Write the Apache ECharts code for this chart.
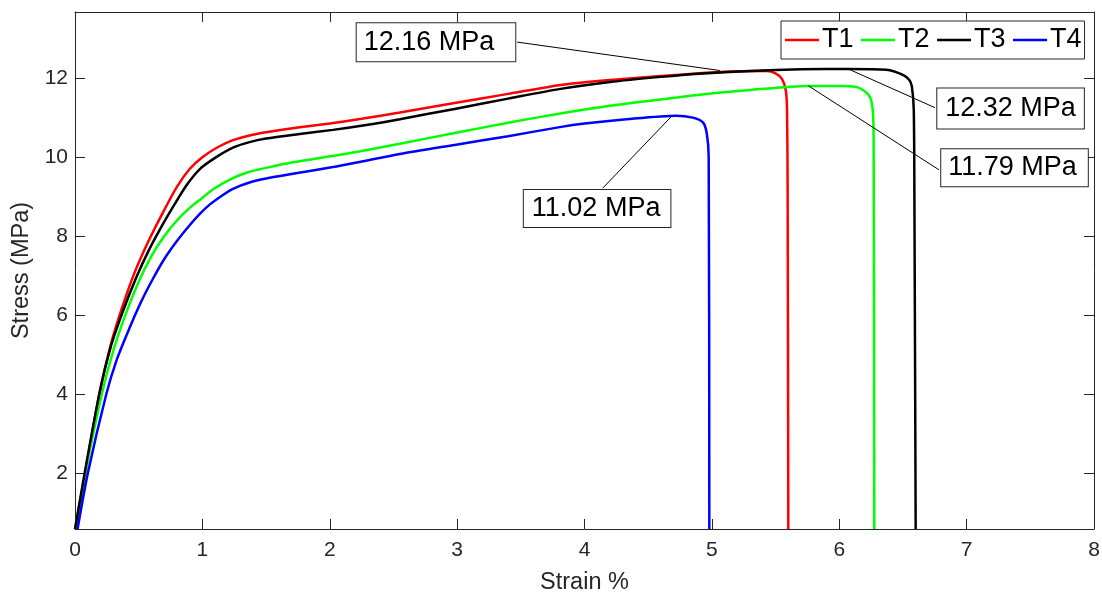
<!DOCTYPE html>
<html>
<head>
<meta charset="utf-8">
<script src="https://cdn.jsdelivr.net/npm/echarts@6/dist/echarts.min.js"></script>
<style>
  html, body { margin: 0; padding: 0; background: #fff; }
  #chart { width: 1102px; height: 594px; }
</style>
</head>
<body>
<div id="chart"></div>
<script>
// strain %, stress MPa pairs
const t1 = [[0.01,0.6],[0.08,2.0],[0.19,4.0],[0.28,5.25],[0.37,6.2],[0.47,7.1],[0.58,7.9],[0.69,8.6],[0.8,9.25],[0.9,9.7],[1.0,10.0],[1.12,10.25],[1.24,10.43],[1.37,10.55],[1.5,10.63],[1.75,10.75],[2.0,10.85],[2.25,10.97],[2.55,11.13],[2.98,11.37],[3.4,11.6],[3.8,11.82],[4.2,11.95],[4.6,12.05],[4.9,12.12],[5.2,12.17],[5.43,12.18],[5.5,12.12],[5.55,11.98],[5.58,11.7],[5.59,11.2],[5.595,9.0],[5.6,0.6]];
const t2 = [[0.0,0.6],[0.08,2.0],[0.21,4.0],[0.3,5.1],[0.4,6.05],[0.5,6.85],[0.6,7.5],[0.7,8.0],[0.8,8.4],[0.9,8.72],[0.978,8.92],[1.1,9.22],[1.24,9.47],[1.37,9.63],[1.5,9.73],[1.71,9.87],[2.02,10.03],[2.24,10.15],[2.55,10.34],[2.98,10.61],[3.4,10.87],[3.8,11.1],[4.2,11.3],[4.6,11.46],[4.906,11.58],[5.3,11.7],[5.757,11.8],[6.0,11.8],[6.14,11.77],[6.23,11.58],[6.26,11.28],[6.27,10.5],[6.275,0.6]];
const t3 = [[0.0,0.6],[0.075,2.0],[0.19,4.0],[0.28,5.2],[0.376,6.1],[0.48,6.95],[0.58,7.65],[0.68,8.25],[0.78,8.8],[0.873,9.28],[0.98,9.7],[1.109,10.0],[1.24,10.24],[1.37,10.38],[1.5,10.47],[1.75,10.58],[2.025,10.69],[2.3,10.82],[2.55,10.96],[2.98,11.22],[3.4,11.48],[3.8,11.72],[4.2,11.9],[4.6,12.03],[4.9,12.11],[5.3,12.18],[5.7,12.22],[6.07,12.23],[6.37,12.21],[6.5,12.08],[6.55,11.95],[6.57,11.79],[6.585,11.2],[6.59,9.0],[6.6,0.6]];
const t4 = [[0.02,0.6],[0.1,2.0],[0.245,4.0],[0.33,4.9],[0.428,5.68],[0.52,6.35],[0.611,6.92],[0.7,7.42],[0.8,7.88],[0.9,8.28],[0.978,8.56],[1.057,8.8],[1.15,9.02],[1.24,9.2],[1.37,9.36],[1.5,9.46],[1.71,9.58],[2.025,9.75],[2.235,9.88],[2.55,10.08],[2.98,10.31],[3.4,10.53],[3.806,10.76],[4.0,10.85],[4.33,10.96],[4.72,11.05],[4.85,11.0],[4.93,10.88],[4.96,10.6],[4.975,10.0],[4.98,0.6]];

const seriesNames = ['T1', 'T2', 'T3', 'T4'];
const seriesColors = ['#ff0000', '#00ff00', '#000000', '#0000ff'];
const xTicks = [0, 1, 2, 3, 4, 5, 6, 7, 8];
const yTicks = [2, 4, 6, 8, 10, 12];

// peak callouts: text, label box centre, arrow tail, arrow tip (data units)
const peakLabels = ['12.16 MPa', '12.32 MPa', '11.79 MPa', '11.02 MPa'];
const labelCentres = [[2.834, 12.905], [7.345, 11.232], [7.376, 9.733], [4.099, 8.705]];
const arrowTails = [[3.471, 12.91], [6.752, 11.25], [6.783, 9.68], [4.144, 9.22]];
const arrowTips = [[5.063, 12.19], [6.071, 12.23], [5.757, 11.805], [4.683, 11.03]];
const boxPads = [[5.5, 21, 5.5, 7], [6.5, 8, 6.5, 8], [5, 11, 5, 7], [5, 10, 5, 8]];

const FONT = '"Liberation Sans", Arial, sans-serif';
const AX = '#262626';

const chart = echarts.init(document.getElementById('chart'), null, { renderer: 'canvas' });

const lineSeries = [t1, t2, t3, t4].map((d, i) => ({
  name: seriesNames[i],
  type: 'line',
  data: d,
  showSymbol: false,
  smooth: 0.25,
  color: seriesColors[i],
  lineStyle: { color: seriesColors[i], width: 2.5 },
  clip: true,
  z: 2 + i,
}));

const calloutSeries = {
  name: 'callouts',
  type: 'line',
  data: [],
  z: 10,
  markLine: {
    silent: true,
    animation: false,
    symbol: ['none', 'arrow'],
    symbolSize: [0, 11],
    lineStyle: { color: '#000', width: 1, type: 'solid' },
    label: { show: false },
    data: arrowTails.map((t, i) => [{ coord: t }, { coord: arrowTips[i] }]),
  },
  markPoint: {
    silent: true,
    animation: false,
    symbol: 'circle',
    symbolSize: 0,
    data: labelCentres.map((c, i) => ({
      coord: c,
      label: {
        show: true,
        position: 'inside',
        formatter: peakLabels[i],
        color: '#000',
        fontFamily: FONT,
        fontSize: 27,
        lineHeight: 27,
        backgroundColor: '#fff',
        borderColor: AX,
        borderWidth: 1,
        padding: boxPads[i],
      },
    })),
  },
};

const baseAxis = {
  axisLine: { show: true, onZero: false, lineStyle: { color: AX, width: 1 } },
  axisTick: { show: true, inside: true, length: 10, lineStyle: { color: AX } },
  splitLine: { show: false },
};

chart.setOption({
  animation: false,
  backgroundColor: '#fff',
  grid: { left: 75, right: 8, top: 12, bottom: 65, containLabel: false, outerBoundsMode: 'none' },
  legend: {
    data: seriesNames,
    left: 781,
    top: 21,
    orient: 'horizontal',
    icon: 'rect',
    itemWidth: 34,
    itemHeight: 2.5,
    itemGap: 7.5,
    padding: [5, 3, 5, 4],
    backgroundColor: '#fff',
    borderColor: AX,
    borderWidth: 1,
    borderRadius: 0,
    textStyle: { color: '#000', fontFamily: FONT, fontSize: 27, lineHeight: 28, padding: [0, 0, 0, -2] },
  },
  xAxis: [
    Object.assign({}, baseAxis, {
      type: 'value', position: 'bottom', min: 0, max: 8, interval: 1,
      name: 'Strain %', nameLocation: 'middle', nameGap: 42,
      nameTextStyle: { color: AX, fontFamily: FONT, fontSize: 23.5 },
      axisTick: Object.assign({}, baseAxis.axisTick, { customValues: xTicks }),
      axisLabel: { customValues: xTicks, color: AX, fontFamily: FONT, fontSize: 21, margin: 11 },
    }),
    Object.assign({}, baseAxis, {
      type: 'value', position: 'top', min: 0, max: 8, interval: 1,
      axisTick: Object.assign({}, baseAxis.axisTick, { customValues: xTicks }),
      axisLabel: { show: false },
    }),
  ],
  yAxis: [
    Object.assign({}, baseAxis, {
      type: 'value', position: 'left', min: 0.6, max: 13.67,
      name: 'Stress (MPa)', nameLocation: 'middle', nameGap: 38,
      nameTextStyle: { color: AX, fontFamily: FONT, fontSize: 23.5 },
      axisTick: Object.assign({}, baseAxis.axisTick, { customValues: yTicks }),
      axisLabel: { customValues: yTicks, color: AX, fontFamily: FONT, fontSize: 21, margin: 7 },
    }),
    Object.assign({}, baseAxis, {
      type: 'value', position: 'right', min: 0.6, max: 13.67,
      axisTick: Object.assign({}, baseAxis.axisTick, { customValues: yTicks }),
      axisLabel: { show: false },
    }),
  ],
  series: lineSeries.concat([calloutSeries]),
});
</script>
</body>
</html>
